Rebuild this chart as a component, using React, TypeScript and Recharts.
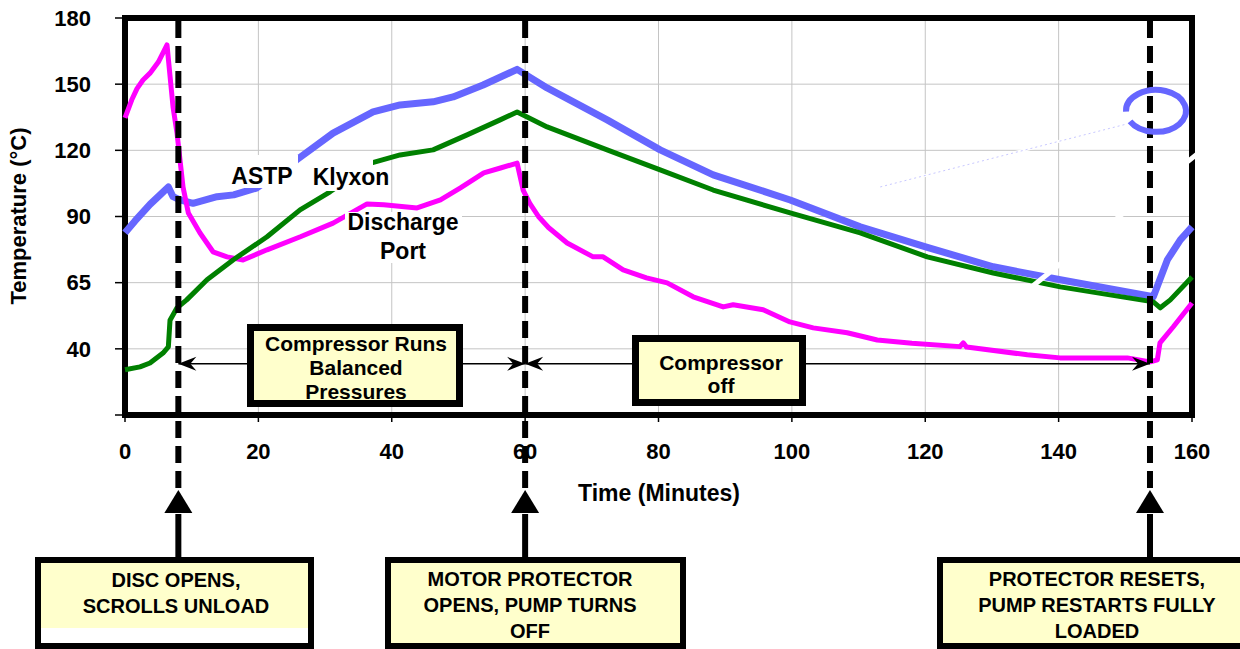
import React from "react";
import {
  CartesianGrid,
  Line,
  LineChart,
  ReferenceArea,
  ReferenceDot,
  ReferenceLine,
  XAxis,
  YAxis,
} from "recharts";

const FONT = '"Liberation Sans", Arial, Helvetica, sans-serif';

// readings: time (minutes) and temperature, one pair of arrays per sensor
const astpTimes = [0, 1.5, 3.75, 5.5, 6.5, 7.2, 8.25, 10.2, 13.8, 16.3, 19.7, 25.7, 31.2, 37.2, 41.25, 46.2, 49.2, 53.7, 58.8, 63.3, 72.3, 80.25, 88.2, 99.75, 110.25, 120.3, 130.2, 140.25, 154.2, 156.3, 158.25, 160];
const astpTemps = [82.6, 88, 95.5, 100.5, 103.4, 99, 97.5, 96, 99, 99.8, 102.9, 115.6, 127.8, 137.4, 140.6, 142, 144.2, 149.6, 156.7, 148.3, 133.8, 120.2, 108.9, 97.5, 85.3, 76, 67.2, 61.3, 53.6, 70.3, 79.4, 85.3];

const klyxonTimes = [0, 2.25, 3.75, 5.7, 6.5, 6.75, 7.8, 9.25, 12.3, 16.2, 21.3, 26.25, 30.75, 37, 41.25, 46.2, 51.3, 56.25, 58.8, 63.3, 72.3, 80.25, 88.2, 99.75, 110.25, 120.3, 130.2, 140.25, 154.2, 155.25, 156.75, 160];
const klyxonTemps = [20.5, 21.8, 23.6, 28.1, 30.9, 43, 48.6, 52.2, 61.3, 70.3, 80.8, 93, 101.2, 114.3, 117.9, 120.2, 127, 133.8, 137.4, 130.6, 120.2, 111.1, 102, 91.6, 82.6, 71.7, 64.4, 58.1, 51.3, 48.6, 52.2, 62.6];

const dischargeTimes = [0, 1, 1.8, 2.7, 3.75, 5, 6.3, 7.2, 7.8, 8.7, 9.5, 11.25, 13.2, 15.3, 17.7, 21.3, 26.3, 31.2, 36.3, 38.8, 43.8, 47.3, 50.3, 53.8, 56.3, 58.8, 59.7, 60.7, 62, 63.5, 66.3, 70.2, 71.7, 74.7, 78.2, 81.3, 85.2, 89.7, 91.2, 95.7, 99.7, 103.2, 108.3, 112.8, 118, 125.2, 125.7, 126.2, 135.3, 140.2, 150.3, 153.75, 154.8, 155.2, 157.2, 160];
const dischargeTemps = [134.7, 142.8, 148, 151.9, 155, 160, 167.8, 139.7, 127.8, 103.4, 91.6, 82.5, 74, 71.7, 70.3, 74.9, 80.8, 87, 95.7, 95.3, 93.9, 97.5, 103, 109.8, 112, 114.2, 102, 96, 90, 85, 78, 71.7, 71.7, 65.8, 62.2, 59.9, 53.6, 49, 50, 47.7, 42.2, 39.5, 37.3, 34, 32.5, 31, 32.7, 30.8, 27.3, 25.9, 25.9, 24.1, 25, 32.7, 40, 50.8];

const xTicks = [0, 20, 40, 60, 80, 100, 120, 140, 160];
const yTicks = [0, 30, 60, 90, 120, 150, 180];
const yTickLabels = ["", "40", "65", "90", "120", "150", "180"];

// disc opens, motor protector opens, protector resets
const eventTimes = [8, 60, 153.7];
const phaseSpans = [
  [8, 60],
  [60, 153.7],
];
const phaseArrowTemp = 23.2;

const toRows = (times: number[], temps: number[]) =>
  times.map((t, i) => ({ t, v: temps[i] }));

const astpData = toRows(astpTimes, astpTemps);
const klyxonData = toRows(klyxonTimes, klyxonTemps);
const dischargeData = toRows(dischargeTimes, dischargeTemps);

const tickStyle = { fill: "#000", fontSize: 22, fontWeight: "bold", fontFamily: FONT };

const EventMarker = (p: any) => {
  const x = p.x1;
  const top = Math.min(p.y1, p.y2);
  const bottom = Math.max(p.y1, p.y2);
  const tip = bottom + 75;
  const base = tip + 23;
  return (
    <g>
      <line x1={x} y1={top + 3} x2={x} y2={tip - 1} stroke="#000" strokeWidth={6} strokeDasharray="17 8" />
      <path d={`M${x},${tip} L${x + 14},${base} L${x - 14},${base} Z`} fill="#000" />
      <line x1={x} y1={base + 1} x2={x} y2={bottom + 145} stroke="#000" strokeWidth={6} />
    </g>
  );
};

const head = (tipX: number, y: number, dir: number) =>
  `M${tipX},${y} L${tipX - dir * 18},${y - 7} L${tipX - dir * 12},${y} L${tipX - dir * 18},${y + 7} Z`;

const PhaseArrow = (p: any) => {
  const xa = Math.min(p.x1, p.x2);
  const xb = Math.max(p.x1, p.x2);
  const y = p.y1;
  return (
    <g>
      <line x1={xa} y1={y} x2={xb} y2={y} stroke="#000" strokeWidth={1.5} />
      <path d={head(xa, y, -1)} fill="#000" />
      <path d={head(xb, y, 1)} fill="#000" />
    </g>
  );
};

const ResetRing = (p: any) => {
  const { cx, cy } = p;
  const rx = 30;
  const ry = 21;
  const pt = (deg: number) => {
    const a = (deg * Math.PI) / 180;
    return `${cx + rx * Math.cos(a)},${cy + ry * Math.sin(a)}`;
  };
  return (
    <path d={`M${pt(178)} A${rx},${ry} 0 1 1 ${pt(150)}`} fill="none" stroke="#6666FF" strokeWidth={6} />
  );
};

function NoteBox(props: {
  left: number;
  top: number;
  width: number;
  height: number;
  border: number;
  lines: string[];
  fontSize: number;
  lineHeight: number;
  padTop: number;
  textCenter: number;
  background?: string;
}) {
  const { left, top, width, height, border, lines, fontSize, lineHeight, padTop, textCenter } = props;
  return (
    <div
      style={{
        position: "absolute",
        left,
        top,
        width,
        height,
        boxSizing: "border-box",
        border: `${border}px solid #000`,
        background: props.background ?? "#FFFFCC",
        overflow: "hidden",
      }}
    >
      <div
        style={{
          position: "absolute",
          left: textCenter - left - border - 200,
          width: 400,
          top: padTop,
          textAlign: "center",
          fontSize,
          lineHeight: `${lineHeight}px`,
          fontWeight: "bold",
          whiteSpace: "nowrap",
        }}
      >
        {lines.map((l) => (
          <div key={l}>{l}</div>
        ))}
      </div>
    </div>
  );
}

function Tag({ x, y, text, size = 23 }: { x: number; y: number; text: string; size?: number }) {
  return (
    <div
      style={{
        position: "absolute",
        left: x,
        top: y,
        transform: "translate(-50%, -50%)",
        fontSize: size,
        lineHeight: 1,
        fontWeight: "bold",
        whiteSpace: "nowrap",
      }}
    >
      {text}
    </div>
  );
}

const Blank = ({ l, t, r, b }: { l: number; t: number; r: number; b: number }) => (
  <div style={{ position: "absolute", left: l, top: t, width: r - l, height: b - t, background: "#fff" }} />
);

export default function App() {
  return (
    <div
      style={{
        position: "relative",
        width: 1240,
        height: 649,
        overflow: "hidden",
        background: "#fff",
        fontFamily: FONT,
        color: "#000",
      }}
    >
      <style>{"body{margin:0}"}</style>
      <LineChart
        width={1240}
        height={649}
        margin={{ top: 18, right: 48, bottom: 174, left: 25 }}
      >
        <CartesianGrid stroke="#c4c4c4" strokeWidth={1} />
        <XAxis
          type="number"
          dataKey="t"
          domain={[0, 160]}
          ticks={xTicks}
          interval={0}
          height={60}
          tickSize={7}
          tickMargin={21}
          axisLine={false}
          tickLine={{ stroke: "#000", strokeWidth: 1.5 }}
          tick={tickStyle}
        />
        <YAxis
          type="number"
          domain={[0, 180]}
          ticks={yTicks}
          interval={0}
          width={100}
          tickSize={10}
          tickMargin={24}
          axisLine={false}
          tickLine={{ stroke: "#000", strokeWidth: 1.5 }}
          tick={tickStyle}
          tickFormatter={(v: number) => yTickLabels[yTicks.indexOf(v)] ?? ""}
        />
        <Line
          data={astpData}
          dataKey="v"
          name="ASTP"
          type="linear"
          stroke="#6666FF"
          strokeWidth={7}
          dot={false}
          strokeLinejoin="round"
          isAnimationActive={false}
        />
        <Line
          data={dischargeData}
          dataKey="v"
          name="Discharge Port"
          type="linear"
          stroke="#FF00FF"
          strokeWidth={5}
          dot={false}
          strokeLinejoin="round"
          isAnimationActive={false}
        />
        <Line
          data={klyxonData}
          dataKey="v"
          name="Klyxon"
          type="linear"
          stroke="#008000"
          strokeWidth={5}
          dot={false}
          strokeLinejoin="round"
          isAnimationActive={false}
        />
        <ReferenceLine
          segment={[{ x: 113.25, y: 103.4 }, { x: 150.3, y: 132 }]}
          stroke="#fff"
          strokeWidth={3}
          ifOverflow="visible"
        />
        <ReferenceLine
          segment={[{ x: 113.25, y: 103.4 }, { x: 150.3, y: 132 }]}
          stroke="#c8c8ff"
          strokeWidth={1}
          strokeDasharray="2 3"
          ifOverflow="visible"
        />
        <ReferenceLine
          segment={[{ x: 135, y: 55.8 }, { x: 160.8, y: 118.4 }]}
          stroke="#fff"
          strokeWidth={5}
          ifOverflow="visible"
        />
        <ReferenceArea
          x1={0}
          x2={160}
          y1={0}
          y2={180}
          fill="none"
          fillOpacity={0}
          stroke="#000"
          strokeWidth={6}
          ifOverflow="visible"
        />
        {phaseSpans.map(([a, b]) => (
          <ReferenceLine
            key={`span-${a}`}
            segment={[{ x: a, y: phaseArrowTemp }, { x: b, y: phaseArrowTemp }]}
            shape={PhaseArrow}
            ifOverflow="visible"
          />
        ))}
        {eventTimes.map((t) => (
          <ReferenceLine key={`ev-${t}`} x={t} shape={EventMarker} ifOverflow="visible" />
        ))}
        <ReferenceDot x={154.6} y={137.9} r={1} shape={ResetRing} ifOverflow="visible" />
      </LineChart>

      {/* series labels with their white backing */}
      <Blank l={228} t={155} r={298} b={188} />
      <Blank l={310} t={160} r={373} b={191} />
      <Blank l={345} t={212} r={462} b={263} />
      <Tag x={262} y={176} text="ASTP" />
      <Tag x={351} y={177} text="Klyxon" />
      <Tag x={403} y={222} text="Discharge" />
      <Tag x={403} y={251} text="Port" />

      {/* phase boxes inside the plot */}
      <NoteBox
        left={247}
        top={324}
        width={216}
        height={83}
        border={7}
        lines={["Compressor Runs", "Balanced", "Pressures"]}
        fontSize={21}
        lineHeight={24}
        padTop={1}
        textCenter={356}
      />
      <NoteBox
        left={632}
        top={335}
        width={174}
        height={71}
        border={7}
        lines={["Compressor", "off"]}
        fontSize={21}
        lineHeight={23}
        padTop={9}
        textCenter={721}
      />

      {/* axis titles */}
      <Tag x={659} y={493} text="Time (Minutes)" />
      <div
        style={{
          position: "absolute",
          left: 19,
          top: 216,
          transform: "translate(-50%, -50%) rotate(-90deg)",
          fontSize: 22,
          lineHeight: 1,
          fontWeight: "bold",
          whiteSpace: "nowrap",
        }}
      >
        Temperature (°C)
      </div>

      {/* event call-outs */}
      <NoteBox
        left={35}
        top={557}
        width={279}
        height={92}
        border={6}
        lines={["DISC OPENS,", "SCROLLS UNLOAD"]}
        fontSize={20}
        lineHeight={26}
        padTop={4}
        textCenter={176}
        background="linear-gradient(to bottom, #FFFFCC 0px, #FFFFCC 65px, #ffffff 65px)"
      />
      <NoteBox
        left={385}
        top={557}
        width={301}
        height={92}
        border={6}
        lines={["MOTOR PROTECTOR", "OPENS, PUMP TURNS", "OFF"]}
        fontSize={20}
        lineHeight={26}
        padTop={3}
        textCenter={530}
      />
      <NoteBox
        left={937}
        top={557}
        width={320}
        height={92}
        border={6}
        lines={["PROTECTOR RESETS,", "PUMP RESTARTS FULLY", "LOADED"]}
        fontSize={20}
        lineHeight={26}
        padTop={3}
        textCenter={1097}
      />
    </div>
  );
}
